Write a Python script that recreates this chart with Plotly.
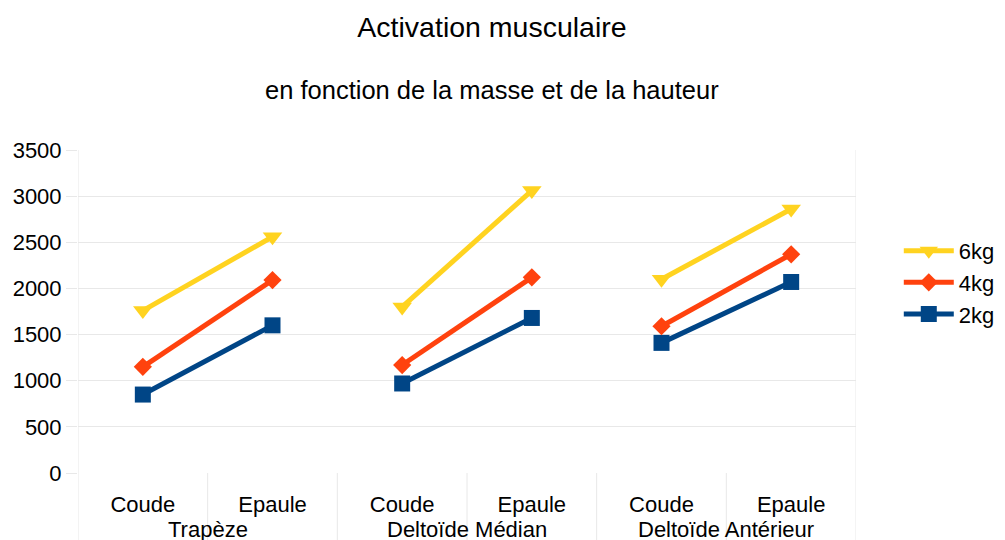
import plotly.graph_objects as go

# donnees
groupes = ["Trapèze", "Deltoïde Médian", "Deltoïde Antérieur"]
positions = ["Coude", "Epaule"]
series = ["2kg", "4kg", "6kg"]
val_2kg = [850, 1600, 970, 1680, 1410, 2070]
val_4kg = [1150, 2090, 1170, 2120, 1590, 2370]
val_6kg = [1760, 2560, 1800, 3060, 2100, 2860]

couleurs = {"2kg": "#004586", "4kg": "#ff420e", "6kg": "#ffd320"}
symboles = {"2kg": "square", "4kg": "diamond", "6kg": "triangle-down"}
tailles = {"2kg": 16, "4kg": 14, "6kg": 17}
valeurs = {"2kg": val_2kg, "4kg": val_4kg, "6kg": val_6kg}

police = "Liberation Sans, Arial, sans-serif"
gris = "#e8e8e8"
n = len(positions)
nb = len(groupes) * n

fig = go.Figure()
for s in series:
    xs, ys = [], []
    for g in range(len(groupes)):
        for p in range(n):
            xs.append(g * n + p)
            ys.append(valeurs[s][g * n + p])
        xs.append(None)  # coupure entre les groupes
        ys.append(None)
    fig.add_trace(go.Scatter(
        x=xs, y=ys, name=s, mode="lines+markers",
        line=dict(color=couleurs[s], width=5),
        marker=dict(symbol=symboles[s], size=tailles[s], color=couleurs[s]),
        connectgaps=False,
    ))

# traits verticaux aux limites des categories
for b in range(nb + 1):
    bord = b == 0 or b == nb
    fig.add_shape(type="line", xref="x", yref="paper",
                  x0=b - 0.5, x1=b - 0.5, y0=-0.3, y1=1 if bord else 0,
                  line=dict(color=gris, width=1), layer="below")

# libelles des groupes
for g, nom in enumerate(groupes):
    fig.add_annotation(x=g * n + (n - 1) / 2, y=(473 - 529) / 323, xref="x", yref="paper",
                       text=nom, showarrow=False, yanchor="middle",
                       font=dict(family=police, size=22, color="#000"))

fig.add_annotation(x=(492 - 78) / 778, xref="paper", y=(473 - 90) / 323, yref="paper",
                   text="en fonction de la masse et de la hauteur", showarrow=False,
                   yanchor="middle", font=dict(family=police, size=25.5, color="#000"))

# la page ajoute une marge de 8 px : la figure fait 997x532
fig.update_layout(
    width=997, height=532,
    margin=dict(l=70, r=149, t=142, b=67, autoexpand=False),
    paper_bgcolor="white", plot_bgcolor="white",
    font=dict(family=police, size=22, color="#000"),
    title=dict(text="Activation musculaire", x=(492 - 8) / 997, xanchor="center",
               y=1 - 19 / 532, yanchor="middle", yref="container",
               font=dict(family=police, size=28.5, color="#000")),
    showlegend=True,
    legend=dict(x=1.055, xanchor="left", y=0.59, yanchor="middle",
                traceorder="reversed", itemwidth=50,
                font=dict(family=police, size=22, color="#000"),
                tracegroupgap=0, bgcolor="rgba(0,0,0,0)"),
    xaxis=dict(range=[-0.5, nb - 0.5], tickmode="array", automargin=False,
               tickvals=list(range(nb)), ticktext=positions * len(groupes),
               showgrid=False, zeroline=False, showline=False,
               ticks="outside", ticklen=12, tickcolor="rgba(0,0,0,0)",
               tickfont=dict(family=police, size=22, color="#000")),
    yaxis=dict(range=[0, 3500], dtick=500, showgrid=True, gridcolor=gris, gridwidth=1,
               automargin=False, zeroline=False, showline=False, ticks="outside",
               ticklen=11, tickcolor=gris,
               tickfont=dict(family=police, size=22, color="#000")),
)

fig.write_html("out.html")
